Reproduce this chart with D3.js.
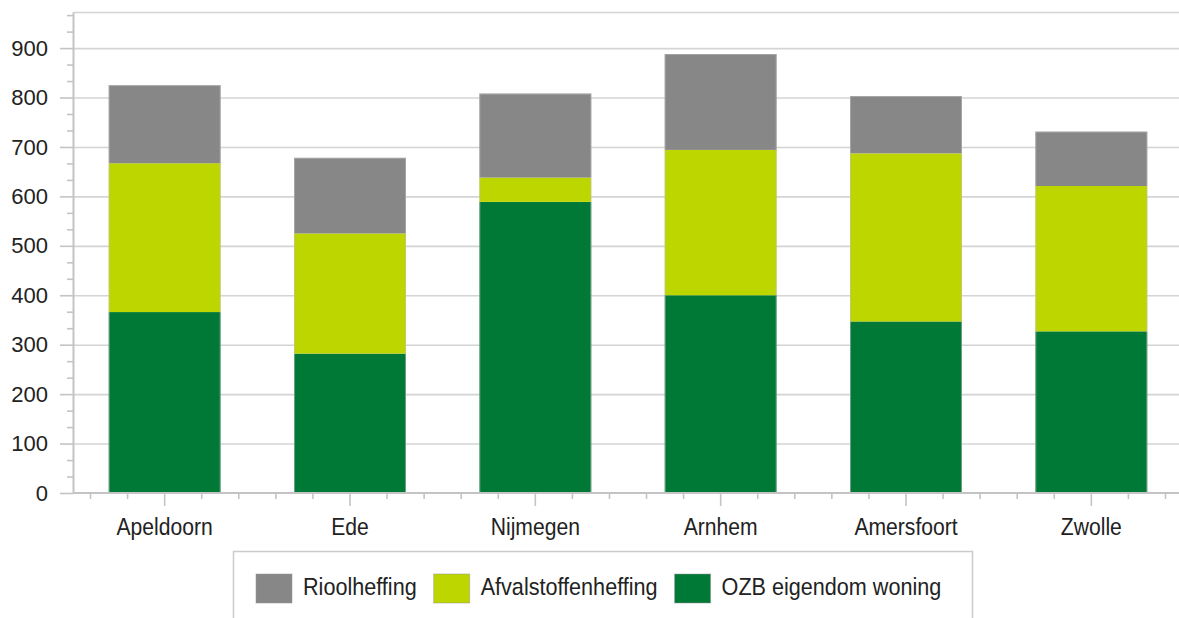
<!DOCTYPE html>
<html><head><meta charset="utf-8">
<script src="https://cdn.jsdelivr.net/npm/d3@7"></script>
<style>
body{margin:0;background:#fff;}
svg{display:block;}
text{font-family:"Liberation Sans",Arial,sans-serif;fill:#222;}
.narrow{transform-box:fill-box;transform-origin:center;transform:scaleX(0.88);}
.narrowL{transform-box:fill-box;transform-origin:left center;transform:scaleX(0.9);}
</style>
</head><body>
<svg id="c" width="1179" height="618"></svg>
<script>
const categories = ["Apeldoorn","Ede","Nijmegen","Arnhem","Amersfoort","Zwolle"];
const ozbValues   = [366,282,589,400,347,327];
const afvalValues = [301,243,49,294,340,294];
const rioolValues = [158,153,170,194,116,110];
const seriesKeys  = ["ozb","afval","riool"];
const seriesNames = {ozb:"OZB eigendom woning", afval:"Afvalstoffenheffing", riool:"Rioolheffing"};
const seriesColors = {ozb:"#007936", afval:"#bed600", riool:"#878787"};
const legendOrder = ["riool","afval","ozb"];
const yTicks = [0,100,200,300,400,500,600,700,800,900];
const yMax = 973;

(function(){
const data = categories.map((c,i)=>({cat:c, ozb:ozbValues[i], afval:afvalValues[i], riool:rioolValues[i]}));

const svg = d3.select("#c");
const W = 1179;
const mLeft = 73, mBottom = 493, mTop = 12;

const x = d3.scaleBand().domain(categories).range([72, 1184]).paddingInner(0.396).paddingOuter(0.198);
const y = d3.scaleLinear().domain([0, yMax]).range([mBottom, mTop]);

// gridlines
const grid = svg.append("g").attr("transform",`translate(${mLeft},0)`)
  .call(d3.axisLeft(y).tickValues(yTicks.filter(v=>v>0).concat([yMax])).tickSize(-(W-mLeft)).tickFormat(""));
grid.select(".domain").remove();
grid.selectAll("line").attr("stroke","#d4d4d4").attr("stroke-width",1.6);

// bars
const stack = d3.stack().keys(seriesKeys)(data);
svg.append("g").selectAll("g").data(stack).join("g")
  .attr("fill", d=>seriesColors[d.key])
  .selectAll("rect").data(d=>d).join("rect")
  .attr("x", d=>x(d.data.cat))
  .attr("width", x.bandwidth())
  .attr("y", d=>y(d[1]))
  .attr("height", d=>y(d[0])-y(d[1]));
// bar outline
svg.append("g").selectAll("rect").data(data).join("rect")
  .attr("x", d=>x(d.cat)+0.5)
  .attr("width", x.bandwidth()-1)
  .attr("y", d=>y(d.ozb+d.afval+d.riool)+0.5)
  .attr("height", d=>y(0)-y(d.ozb+d.afval+d.riool)-1)
  .attr("fill","none").attr("stroke","rgba(190,190,190,0.55)").attr("stroke-width",1);

// y axis major
const yAxis = svg.append("g").attr("transform",`translate(${mLeft},0)`)
  .call(d3.axisLeft(y).tickValues(yTicks).tickSize(13).tickSizeOuter(0).tickPadding(12));
yAxis.select(".domain").attr("stroke","#c4c4c4").attr("stroke-width",2);
yAxis.selectAll("line").attr("stroke","#c4c4c4").attr("stroke-width",1.6);
yAxis.selectAll("text").attr("font-size",22).attr("fill","#222")
  .style("font-family","'Liberation Sans',Arial,sans-serif");

// y axis minor
const minorY = d3.range(0, yMax, 100/3).filter(v=>Math.abs(v/100-Math.round(v/100))>0.01);
const yMinor = svg.append("g").attr("transform",`translate(${mLeft},0)`)
  .call(d3.axisLeft(y).tickValues(minorY).tickSize(6).tickFormat(""));
yMinor.select(".domain").remove();
yMinor.selectAll("line").attr("stroke","#c4c4c4").attr("stroke-width",1.6);

// x axis
const xAxis = svg.append("g").attr("transform",`translate(0,${mBottom})`)
  .call(d3.axisBottom(x).tickSize(13).tickSizeOuter(0).tickFormat(""));
xAxis.select(".domain").remove();
xAxis.selectAll("line").attr("stroke","#c4c4c4").attr("stroke-width",1.6);
svg.append("line").attr("x1",mLeft).attr("x2",W).attr("y1",mBottom).attr("y2",mBottom)
  .attr("stroke","#c4c4c4").attr("stroke-width",2.2);

// x minor ticks
const minorX = [];
categories.forEach(c=>{
  const cx = x(c)+x.bandwidth()/2;
  [-2,-1,1,2].forEach(j=>minorX.push(cx + j*x.step()/5));
});
svg.append("g").selectAll("line").data(minorX.filter(v=>v>mLeft && v<W)).join("line")
  .attr("x1",d=>d).attr("x2",d=>d).attr("y1",mBottom).attr("y2",mBottom+6)
  .attr("stroke","#c4c4c4").attr("stroke-width",1.6);

// x labels
svg.append("g").selectAll("text").data(categories).join("text")
  .attr("class","narrow")
  .attr("x", d=>x(d)+x.bandwidth()/2)
  .attr("y", 535)
  .attr("text-anchor","middle")
  .attr("font-size",24)
  .text(d=>d);

// legend
svg.append("rect").attr("x",233.5).attr("y",551.5).attr("width",739).attr("height",100)
  .attr("fill","#fff").attr("stroke","#cbcbcb").attr("stroke-width",1.5);
let lx = 256;
legendOrder.forEach(k=>{
  svg.append("rect").attr("x",lx).attr("y",574).attr("width",36).attr("height",29)
    .attr("fill",seriesColors[k]).attr("stroke","rgba(150,150,150,0.5)").attr("stroke-width",1);
  const t = svg.append("text").attr("class","narrowL").attr("x",lx+47).attr("y",595)
    .attr("font-size",24).text(seriesNames[k]);
  const w = t.node().getComputedTextLength()*0.9;
  lx = lx + 47 + w + 17;
});
})();
</script>
</body></html>
